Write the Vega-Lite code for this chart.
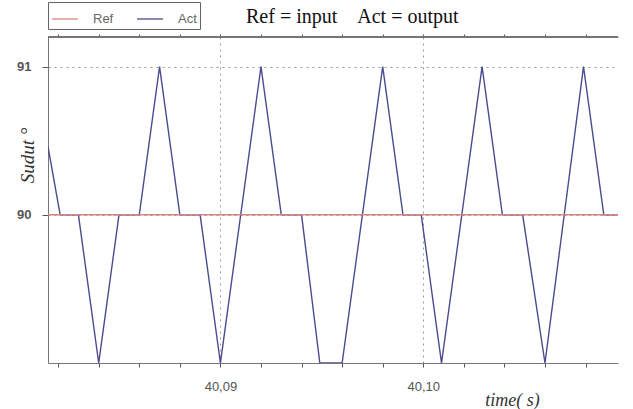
{
  "$schema": "https://vega.github.io/schema/vega-lite/v6.json",
  "width": 570,
  "height": 326,
  "autosize": {"type": "none"},
  "padding": {"left": 48, "top": 37, "right": 15, "bottom": 46},
  "background": "white",
  "title": {
    "text": "Ref = input\u00a0\u00a0\u00a0\u00a0Act = output",
    "anchor": "start",
    "frame": "group",
    "dx": 198,
    "offset": -25,
    "font": "Liberation Serif",
    "fontSize": 20,
    "fontWeight": "normal",
    "color": "#111"
  },
  "config": {
    "view": {"stroke": null},
    "axis": {
      "domainColor": "#777",
      "tickColor": "#555",
      "labelFont": "Liberation Sans",
      "labelColor": "#555",
      "labelFontSize": 13,
      "titleFont": "Liberation Serif",
      "titleFontStyle": "italic",
      "titleFontWeight": "normal",
      "titleColor": "#333",
      "titleFontSize": 18
    }
  },
  "data": {
    "values": [
      {"t": 40.0815, "v": 90.46, "s": "Act"},
      {"t": 40.0821, "v": 90, "s": "Act"},
      {"t": 40.0830, "v": 90, "s": "Act"},
      {"t": 40.0840, "v": 89, "s": "Act"},
      {"t": 40.0850, "v": 90, "s": "Act"},
      {"t": 40.0860, "v": 90, "s": "Act"},
      {"t": 40.0870, "v": 91, "s": "Act"},
      {"t": 40.0880, "v": 90, "s": "Act"},
      {"t": 40.0890, "v": 90, "s": "Act"},
      {"t": 40.0900, "v": 89, "s": "Act"},
      {"t": 40.0920, "v": 91, "s": "Act"},
      {"t": 40.0930, "v": 90, "s": "Act"},
      {"t": 40.0940, "v": 90, "s": "Act"},
      {"t": 40.0949, "v": 89, "s": "Act"},
      {"t": 40.0960, "v": 89, "s": "Act"},
      {"t": 40.0980, "v": 91, "s": "Act"},
      {"t": 40.0990, "v": 90, "s": "Act"},
      {"t": 40.0999, "v": 90, "s": "Act"},
      {"t": 40.1009, "v": 89, "s": "Act"},
      {"t": 40.1029, "v": 91, "s": "Act"},
      {"t": 40.1039, "v": 90, "s": "Act"},
      {"t": 40.1049, "v": 90, "s": "Act"},
      {"t": 40.1060, "v": 89, "s": "Act"},
      {"t": 40.1079, "v": 91, "s": "Act"},
      {"t": 40.1089, "v": 90, "s": "Act"},
      {"t": 40.1096, "v": 90, "s": "Act"},
      {"t": 40.0815, "v": 90, "s": "Ref"},
      {"t": 40.1096, "v": 90, "s": "Ref"}
    ]
  },
  "layer": [
    {
      "mark": {"type": "rule", "color": "#777", "strokeWidth": 1},
      "encoding": {"y": {"datum": 91.2, "type": "quantitative"}}
    },
    {
      "transform": [{"filter": "datum.s === 'Act'"}],
      "mark": {"type": "line", "strokeWidth": 1.4, "clip": true},
      "encoding": {
        "x": {
          "field": "t", "type": "quantitative",
          "scale": {"domain": [40.0815, 40.1096], "nice": false, "zero": false},
          "axis": {
            "orient": "bottom",
            "title": "time( s)",
            "titleX": 464, "titleY": 42, "titleAlign": "center", "titleBaseline": "alphabetic",
            "values": [40.082, 40.084, 40.086, 40.088, 40.09, 40.092, 40.094, 40.096, 40.098, 40.1, 40.102, 40.104, 40.106, 40.108],
            "labelExpr": "(abs(datum.value-40.09)<1e-6 || abs(datum.value-40.1)<1e-6) ? replace(format(datum.value,'.2f'),'.',',') : ''",
            "labelPadding": 13,
            "tickSize": 4,
            "grid": true,
            "gridColor": "#999",
            "gridDash": [2, 4],
            "gridOpacity": {"condition": {"test": "abs(datum.value-40.09)<1e-6 || abs(datum.value-40.1)<1e-6", "value": 1}, "value": 0}
          }
        },
        "y": {
          "field": "v", "type": "quantitative",
          "scale": {"domain": [89, 91.2], "nice": false, "zero": false},
          "axis": {
            "values": [90, 91],
            "format": "d",
            "title": "Sudut \u00b0",
            "titleFontSize": 19,
            "titleX": -11, "titleY": 118, "titleAlign": "center", "titleAngle": -90,
            "labelPadding": 11,
            "tickSize": 6,
            "labelFontWeight": "bold",
            "grid": true,
            "gridColor": "#999",
            "gridDash": [2, 4]
          }
        },
        "color": {
          "field": "s", "type": "nominal",
          "scale": {"domain": ["Ref", "Act"], "range": ["#d9837f", "#4b4b8f"]},
          "legend": {
            "title": null,
            "orient": "none",
            "legendX": 0,
            "legendY": -35,
            "direction": "horizontal",
            "symbolType": "stroke",
            "symbolSize": 676,
            "symbolStrokeWidth": 1.3,
            "labelFont": "Liberation Sans",
            "labelFontSize": 13,
            "labelColor": "#666",
            "labelOffset": 14,
            "columnPadding": 20,
            "strokeColor": "#666",
            "padding": 3,
            "fillColor": "white"
          }
        }
      }
    },
    {
      "transform": [{"filter": "datum.s === 'Ref'"}],
      "mark": {"type": "line", "strokeWidth": 1.6},
      "encoding": {
        "x": {
          "field": "t", "type": "quantitative",
          "scale": {"domain": [40.0815, 40.1096], "nice": false, "zero": false},
          "axis": {
            "orient": "top",
            "title": null,
            "labels": false,
            "grid": false,
            "domain": true,
            "domainColor": "#777",
            "values": [40.082, 40.084, 40.086, 40.088, 40.09, 40.092, 40.094, 40.096, 40.098, 40.1, 40.102, 40.104, 40.106, 40.108],
            "tickSize": 3
          }
        },
        "y": {"field": "v", "type": "quantitative"},
        "color": {"field": "s", "type": "nominal"}
      }
    }
  ],
  "resolve": {"scale": {"x": "independent"}, "axis": {"x": "independent"}}
}
